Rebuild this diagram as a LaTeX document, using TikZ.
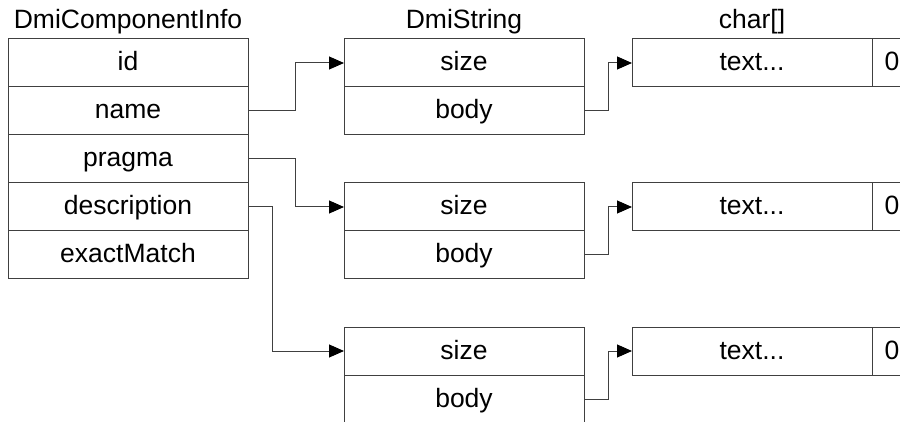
\documentclass[tikz,border=0pt]{standalone}
\usepackage{fontspec}
\setmainfont{Liberation Sans}
\usetikzlibrary{positioning,arrows.meta}
\begin{document}
\begin{tikzpicture}[x=1pt,y=-1pt,
  field/.style={draw=black!75,line width=1pt,minimum width=240pt,minimum height=48pt,
    inner sep=0pt,outer sep=0pt,text height=19pt,text depth=3pt,
    font=\fontsize{26.5}{30}\selectfont},
  zerocell/.style={field,minimum width=40pt},
  title/.style={inner sep=0pt,anchor=base,font=\fontsize{26.5}{30}\selectfont},
  link/.style={draw=black!75,line width=1pt,-{Triangle[length=15pt,width=13pt,color=black]}},
  ]
\clip (0,0) rectangle (900,422);
\node[field] (id) at (128,63) {id};
\node[field,below=0pt of id] (name) {name};
\node[field,below=0pt of name] (pragma) {pragma};
\node[field,below=0pt of pragma] (description) {description};
\node[field,below=0pt of description] (exactmatch) {exactMatch};
\node[title] (info-title) at ([yshift=10pt]id.north) {DmiComponentInfo};

\foreach \i/\y in {1/63,2/207,3/351} {
  \node[field] (str\i-size) at (464,\y) {size};
  \node[field,below=0pt of str\i-size] (str\i-body) {body};
  \node[field] (chr\i-text) at (752,\y) {text...};
  \node[zerocell,right=0pt of chr\i-text] (chr\i-zero) {0};
  \draw[link] (str\i-body.east) -- ++(24,0) |- (chr\i-text.west);
}
\node[title] (str-title) at ([yshift=10pt]str1-size.north) {DmiString};
\node[title] (chr-title) at ([yshift=10pt]chr1-text.north) {char[]};

\draw[link] (name.east) -- ++(47,0) |- (str1-size.west);
\draw[link] (pragma.east) -- ++(47,0) |- (str2-size.west);
\draw[link] (description.east) -- ++(24,0) |- (str3-size.west);
\end{tikzpicture}
\end{document}
